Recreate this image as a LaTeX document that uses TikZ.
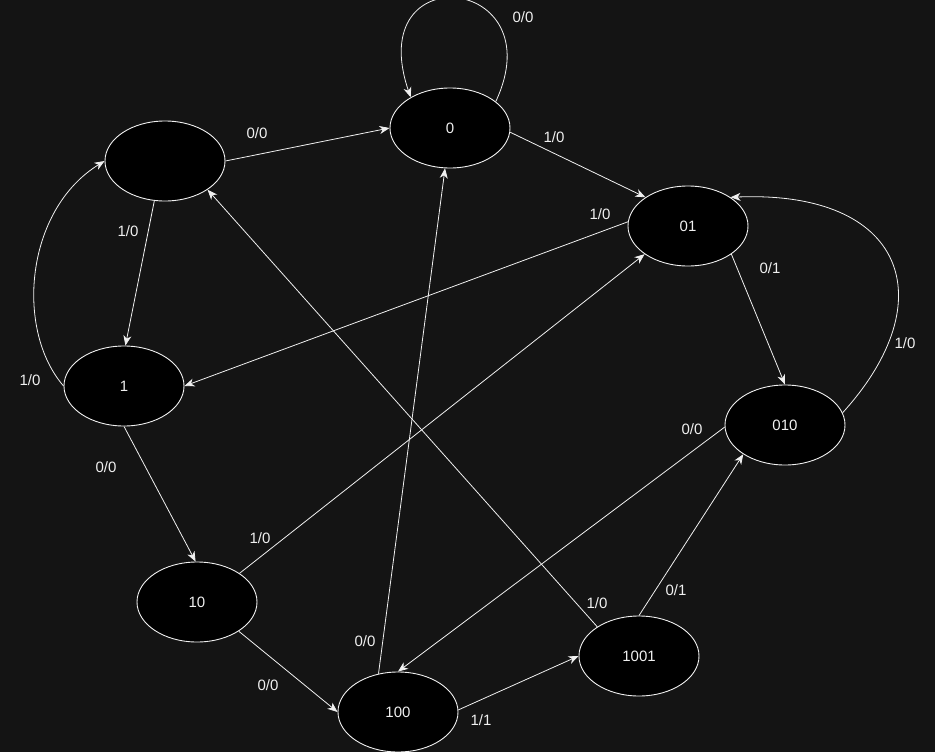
\documentclass[tikz,border=0pt]{standalone}
\usepackage{fontspec}
\setmainfont{Liberation Sans}
\usetikzlibrary{shapes.geometric,arrows.meta}
\definecolor{bgcol}{RGB}{20,20,20}
\definecolor{inkcol}{RGB}{240,240,240}
\begin{document}
\begin{tikzpicture}[
  x=1pt, y=-1pt,
  state/.style={ellipse, draw=inkcol, fill=black, line width=0.9pt,
    minimum width=120pt, minimum height=80pt, inner sep=0pt,
    text=inkcol, font=\fontsize{15}{18}\selectfont},
  lbl/.style={text=inkcol, font=\fontsize{15}{18}\selectfont, inner sep=1pt},
  edge/.style={draw=inkcol, line width=0.8pt,
    -{Stealth[length=10pt,width=8pt,inset=3pt]}},
]
\useasboundingbox (0,0) rectangle (935,752);
\fill[bgcol] (0,0) rectangle (935,752);

% states
\node[state] (S)  at (165,161) {};
\node[state] (A)  at (450,128) {0};
\node[state] (B)  at (688,226) {01};
\node[state] (C)  at (124,386) {1};
\node[state] (D)  at (785,425) {010};
\node[state] (E)  at (197,602) {10};
\node[state] (F)  at (398,712) {100};
\node[state] (G)  at (639,656) {1001};

% transitions
\draw[edge] (S.east) -- (A.west);
\draw[edge] (A.30) .. controls (555,-25) and (362,-45) .. (A.142);
\draw[edge] (A.-4) -- (B.146);
\draw[edge] (B.176) -- (C.east);
\draw[edge] (S.-105) -- (C.88);
\draw[edge] (C.west) .. controls (15,330) and (25,210) .. (S.west);
\draw[edge] (C.south) -- (E.92);
\draw[edge] (E.34) -- (B.213);
\draw[edge] (E.-35) -- (F.west);
\draw[edge] (B.-33) -- (D.north);
\draw[edge] (D.12) .. controls (945,300) and (905,190) .. (B.34);
\draw[edge] (D.182) -- (F.north);
\draw[edge] (F.117) -- (A.-97);
\draw[edge] (F.2) -- (G.west);
\draw[edge] (G.north) -- (D.215);
\draw[edge] (G.145) -- (S.-34);

% transition labels
\node[lbl] (l1)  at (257,133) {0/0};
\node[lbl] (l2)  at (523,17)  {0/0};
\node[lbl] (l3)  at (554,137) {1/0};
\node[lbl] (l4)  at (600,214) {1/0};
\node[lbl] (l5)  at (128,231) {1/0};
\node[lbl] (l6)  at (30,380)  {1/0};
\node[lbl] (l7)  at (106,467) {0/0};
\node[lbl] (l8)  at (260,538) {1/0};
\node[lbl] (l9)  at (268,685) {0/0};
\node[lbl] (l10) at (770,268) {0/1};
\node[lbl] (l11) at (905,343) {1/0};
\node[lbl] (l12) at (692,429) {0/0};
\node[lbl] (l13) at (365,641) {0/0};
\node[lbl] (l14) at (481,720) {1/1};
\node[lbl] (l15) at (676,590) {0/1};
\node[lbl] (l16) at (597,603) {1/0};
\end{tikzpicture}
\end{document}
